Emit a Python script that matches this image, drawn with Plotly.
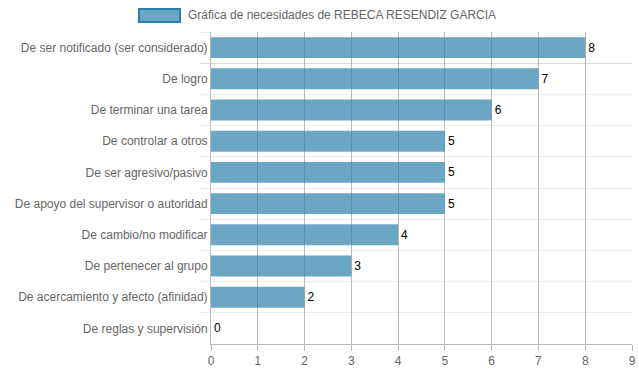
import plotly.graph_objects as go

categories = [
    "De ser notificado (ser considerado)",
    "De logro",
    "De terminar una tarea",
    "De controlar a otros",
    "De ser agresivo/pasivo",
    "De apoyo del supervisor o autoridad",
    "De cambio/no modificar",
    "De pertenecer al grupo",
    "De acercamiento y afecto (afinidad)",
    "De reglas y supervisión",
]
values = [8, 7, 6, 5, 5, 5, 4, 3, 2, 0]
series_name = "Gráfica de necesidades de REBECA RESENDIZ GARCIA"
x_ticks = [0, 1, 2, 3, 4, 5, 6, 7, 8, 9]

W, H = 639, 372
L, R, T, B = 211, 7, 32, 28
pw, ph = W - L - R, H - T - B

def px(x):  # page pixel x -> paper
    return (x - L) / pw

def py(y):  # page pixel y -> paper
    return (H - B - y) / ph

FONT = "Liberation Sans, Arial, Helvetica, sans-serif"
fill = "rgba(45,128,173,0.7)"
border = "rgb(45,128,173)"

fig = go.Figure()
fig.add_trace(go.Bar(
    x=values,
    y=categories,
    orientation="h",
    marker=dict(color=fill, line=dict(width=0)),
    text=[str(v) for v in values],
    textposition="outside",
    textfont=dict(color="#000", size=12, family=FONT),
    cliponaxis=False,
    showlegend=False,
    hoverinfo="x+y",
))

fig.update_layout(
    width=W, height=H,
    margin=dict(l=L, r=R, t=T, b=B, pad=0, autoexpand=False),
    paper_bgcolor="white",
    plot_bgcolor="white",
    bargap=0.33,
    font=dict(family=FONT, size=12, color="#666"),
    xaxis=dict(
        range=[0, 9],
        tickvals=x_ticks,
        ticktext=[str(t) for t in x_ticks],
        showgrid=True,
        gridcolor="rgba(0,0,0,0.27)",
        gridwidth=1,
        zeroline=False,
        showline=True,
        linecolor="rgba(0,0,0,0.27)",
        linewidth=1,
        ticks="outside",
        ticklen=6,
        tickcolor="rgba(0,0,0,0.27)",
        tickfont=dict(size=12, color="#666"),
        automargin=False,
        fixedrange=True,
    ),
    yaxis=dict(
        categoryorder="array",
        categoryarray=categories,
        autorange="reversed",
        tickson="boundaries",
        showgrid=True,
        gridcolor="rgba(0,0,0,0.07)",
        ticks="outside",
        ticklen=10,
        tickcolor="rgba(0,0,0,0.07)",
        showline=True,
        linecolor="rgba(0,0,0,0.27)",
        linewidth=1,
        zeroline=False,
        tickfont=dict(size=12, color="#666"),
        automargin=False,
        fixedrange=True,
    ),
    shapes=[dict(
        type="rect", xref="paper", yref="paper",
        x0=px(139), x1=px(180), y0=py(22), y1=py(9),
        fillcolor=fill, line=dict(color=border, width=2),
    )],
    annotations=[dict(
        xref="paper", yref="paper", x=px(186), y=py(15.5),
        xanchor="left", yanchor="middle", showarrow=False,
        text=series_name, font=dict(size=12, color="#666", family=FONT),
    )],
)

fig.write_html(
    "out.html",
    config={"displayModeBar": False},
    post_script="document.body.style.margin='0';document.body.style.overflow='hidden';",
)
